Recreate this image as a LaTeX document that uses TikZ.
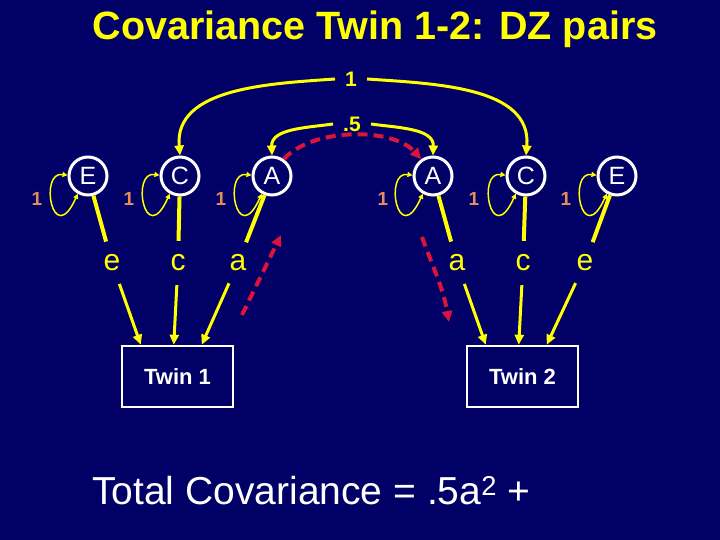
\documentclass[tikz,border=0pt]{standalone}
\usepackage{fontspec}
\setmainfont{Liberation Sans}
\usetikzlibrary{arrows.meta}
\definecolor{bg}{RGB}{0,0,102}
\definecolor{yel}{RGB}{255,255,0}
\definecolor{redd}{RGB}{220,20,60}
\definecolor{org}{RGB}{232,140,90}
\begin{document}
\begin{tikzpicture}[x=1pt,y=1pt,
  latent/.style={circle,draw=white,line width=3pt,minimum size=38pt,inner sep=0pt,text=white,font=\fontsize{25}{25}\selectfont},
  obs/.style={rectangle,draw=white,line width=2.5pt,minimum width=111pt,minimum height=61pt,text=white,font=\bfseries\fontsize{22}{22}\selectfont},
  pathlbl/.style={circle,inner sep=0pt,minimum size=44pt,text=yel,font=\fontsize{30}{30}\selectfont},
  varlbl/.style={text=org,font=\bfseries\fontsize{19}{19}\selectfont},
  corlbl/.style={text=yel,inner sep=10pt,font=\bfseries\fontsize{21}{21}\selectfont},
  loopline/.style={draw=yel,line width=1.5pt,{Triangle[length=5pt,width=5pt]}-{Triangle[length=5pt,width=5pt]}},
  pathline/.style={draw=yel,line width=4pt},
  arr/.style={draw=yel,line width=3pt,-{Triangle[length=10pt,width=9pt]}},
  corarr/.style={draw=yel,line width=3pt,-{Triangle[length=10pt,width=9pt]}},
  reddash/.style={draw=redd,line width=4pt,dash pattern=on 10pt off 6pt,-{Triangle[length=11pt,width=10pt]}}
]
\fill[bg] (0,0) rectangle (720,540);
\useasboundingbox (0,0) rectangle (720,540);

% title
\node[text=yel,anchor=base,inner sep=0pt,font=\bfseries\fontsize{39.5}{40}\selectfont] (title) at (375,500) {Covariance Twin 1-2: DZ pairs};

% latent variables
\node[latent] (E1) at (88,364) {E};
\node[latent] (C1) at (180,364) {C};
\node[latent] (A1) at (272,364) {A};
\node[latent] (A2) at (433,364) {A};
\node[latent] (C2) at (526,364) {C};
\node[latent] (E2) at (617,364) {E};

% variance loops
\foreach \n in {E1,C1,A1,A2,C2,E2}{
  \draw[loopline] (\n.178) .. controls +(-29,5) and +(-25,-56) .. (\n.240);
}
\node[varlbl] (v1) at (37,341) {1};
\node[varlbl] (v2) at (129,341) {1};
\node[varlbl] (v3) at (221,341) {1};
\node[varlbl] (v4) at (383,341) {1};
\node[varlbl] (v5) at (474,341) {1};
\node[varlbl] (v6) at (566,341) {1};

% path labels
\node[pathlbl] (e1) at (112,277) {e};
\node[pathlbl] (c1) at (178,277) {c};
\node[pathlbl] (a1) at (238,277) {a};
\node[pathlbl] (a2) at (457,277) {a};
\node[pathlbl] (c2) at (523,277) {c};
\node[pathlbl] (e2) at (585,277) {e};

\draw[pathline] (E1) -- (e1);
\draw[pathline] (C1) -- (c1);
\draw[pathline] (A1) -- (a1);
\draw[pathline] (A2) -- (a2);
\draw[pathline] (C2) -- (c2);
\draw[pathline] (E2) -- (e2);

% observed
\node[obs] (T1) at (177.5,163.5) {Twin 1};
\node[obs] (T2) at (522.5,163.5) {Twin 2};

\draw[arr] (e1) -- ([xshift=20pt]T1.north west);
\draw[arr] (c1) -- ([xshift=53pt]T1.north west);
\draw[arr] (a1) -- ([xshift=81pt]T1.north west);
\draw[arr] (a2) -- ([xshift=20pt]T2.north west);
\draw[arr] (c2) -- ([xshift=53pt]T2.north west);
\draw[arr] (e2) -- ([xshift=81pt]T2.north west);

% correlations
\node[corlbl] (one) at (351,461) {1};
\node[corlbl] (half) at (352,416) {.5};
\draw[corarr] (one.west) to[out=184,in=95] (C1.north);
\draw[corarr] (one.east) to[out=-4,in=85] (C2.north);
\draw[corarr] (half.west) to[out=188,in=92] (A1.north);
\draw[corarr] (half.east) to[out=-8,in=88] (A2.north);

% tracing path (red dashed)
\coordinate (r0) at (242,225);
\coordinate (r1) at (281,305);
\coordinate (r2) at (422,303);
\coordinate (r3) at (449,218);
\draw[reddash] (r0) -- (r1);
\draw[reddash] (A1.55) to[out=48,in=132,looseness=0.8] (A2.125);
\draw[reddash] (r2) to[out=-70,in=100] (r3);

% bottom formula
\node[text=white,anchor=base west,inner sep=0pt,font=\fontsize{39}{40}\selectfont] (tot) at (92,35) {Total Covariance = .5a\textsuperscript{2} +};
\end{tikzpicture}
\end{document}
